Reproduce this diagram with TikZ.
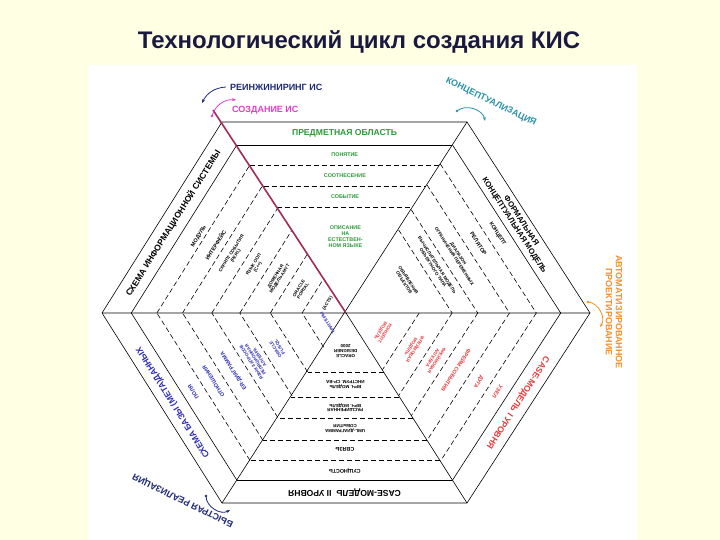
\documentclass[tikz,border=0pt]{standalone}
\usepackage{fontspec}
\setmainfont{Liberation Sans}
\usetikzlibrary{calc,arrows.meta}
\definecolor{bg}{HTML}{FFFFE4}
\definecolor{grn}{HTML}{2E9A3A}
\definecolor{blu}{HTML}{2C2CB8}
\definecolor{rd}{HTML}{E8383A}
\definecolor{redline}{HTML}{A02C58}
\definecolor{navy}{HTML}{1E2A78}
\definecolor{mag}{HTML}{E040C8}
\definecolor{teal2}{HTML}{2A92A8}
\definecolor{orng}{HTML}{F0902A}
\definecolor{ttl}{HTML}{1A1A40}
\begin{document}
\begin{tikzpicture}[x=1pt,y=-1pt,
  sm/.style={font=\fontsize{5.4}{5.8}\selectfont\bfseries, align=center, inner sep=0pt},
  xs/.style={font=\fontsize{4.5}{4.9}\selectfont\bfseries, align=center, inner sep=0pt},
  big/.style={font=\fontsize{8.6}{9}\selectfont\bfseries, align=center, inner sep=0pt},
  ann/.style={font=\fontsize{9}{10}\selectfont\bfseries, align=center, inner sep=0pt},
  dl/.style={dashed, dash pattern=on 5pt off 3pt, line width=0.6pt},
  sl/.style={line width=0.6pt},
  carr/.style={line width=0.8pt, -{Stealth[length=4pt]}}]
\useasboundingbox (0,0) rectangle (720,540);
\fill[bg] (0,0) rectangle (720,540);
\fill[white] (88,65) rectangle (637,540);
\node[font=\fontsize{24}{28}\selectfont\bfseries, text=ttl] (title) at (359,42) {Технологический цикл создания КИС};
\coordinate (L) at (102,313); \coordinate (TL) at (222,122); \coordinate (TR) at (467,122);
\coordinate (R) at (590,313); \coordinate (BR) at (467,503); \coordinate (BL) at (222,503);
\coordinate (O) at (346,313);
\coordinate (Mul) at ($(L)!0.5!(TL)$); \coordinate (Mt) at ($(TL)!0.5!(TR)$);
\coordinate (Mur) at ($(TR)!0.5!(R)$); \coordinate (Mlr) at ($(R)!0.5!(BR)$);
\coordinate (Mb) at ($(BR)!0.5!(BL)$); \coordinate (Mll) at ($(BL)!0.5!(L)$);
\draw[sl] (L) -- (TL) -- (TR) -- (R) -- (BR) -- (BL) -- cycle;
\draw[sl] (L) -- (R) (TR) -- (BL) (O) -- (BR);
\foreach \a/\b in {L/TL,TL/TR,TR/R,R/BR,BR/BL,BL/L}{
  \draw[sl] ($(\a)!0.12!(O)$) -- ($(\b)!0.12!(O)$);
}
\foreach \t in {0.225,0.335,0.445}{ \draw[dl] ($(TL)!\t!(O)$) -- ($(TR)!\t!(O)$); }
\foreach \t in {0.225,0.33,0.447,0.558,0.69}{ \draw[dl] ($(BR)!\t!(O)$) -- ($(BL)!\t!(O)$); }
\foreach \t in {0.22,0.33,0.46,0.565}{ \draw[dl] ($(TR)!\t!(O)$) -- ($(R)!\t!(O)$); }
\foreach \t in {0.22,0.33,0.46,0.565,0.70}{ \draw[dl] ($(R)!\t!(O)$) -- ($(BR)!\t!(O)$); }
\foreach \t in {0.225,0.33,0.45,0.565,0.69,0.82}{
  \draw[dl] ($(L)!\t!(O)$) -- ($(TL)!\t!(O)$);
  \draw[dl] ($(BL)!\t!(O)$) -- ($(L)!\t!(O)$);
}
\draw[redline, line width=1.6pt] (213,110) -- (O);
\node[big, text=grn] (t0) at ($(Mt)!0.06!(O)$) {ПРЕДМЕТНАЯ ОБЛАСТЬ};
\node[sm, text=grn] (t1) at ($(Mt)!0.17!(O)$) {ПОНЯТИЕ};
\node[sm, text=grn] (t2) at ($(Mt)!0.28!(O)$) {СООТНЕСЕНИЕ};
\node[sm, text=grn] (t3) at ($(Mt)!0.39!(O)$) {СОБЫТИЕ};
\node[sm, text=grn] (t4) at ($(Mt)!0.6!(O)$) {ОПИСАНИЕ\\НА\\ЕСТЕСТВЕН-\\НОМ ЯЗЫКЕ};
\node[big, font=\fontsize{7.8}{8.2}\selectfont\bfseries, rotate=-57.2] (ur0) at ($(Mur)!0.06!(O)$) {ФОРМАЛЬНАЯ\\КОНЦЕПТУАЛЬНАЯ МОДЕЛЬ};
\node[sm, rotate=-57.2] (ur1) at ($(Mur)!0.17!(O)$) {КОНЦЕПТ};
\node[sm, rotate=-57.2] (ur2) at ($(Mur)!0.275!(O)$) {РЕЛЯТОР};
\node[xs, rotate=-57.2] (ur3) at ($(Mur)!0.395!(O)$) {ДИАПАЗОН\\ОГРАНИЧЕНИЯ ПЕРЕМЕННЫХ};
\node[xs, rotate=-57.2] (ur4) at ($(Mur)!0.512!(O)$) {ВЫЧИСЛИТЕЛЬНАЯ МОДЕЛЬ\\ОБЪЕКТНОГО ТИПА};
\node[xs, rotate=-57.2] (ur5) at ($(Mur)!0.67!(O)$) {ОБЪЯВЛЕНИЯ\\ОБЪЕКТОВ};
\node[big, text=rd, rotate=237.1] (lr0) at ($(Mlr)!0.06!(O)$) {CASE-МОДЕЛЬ I УРОВНЯ};
\node[sm, text=rd, rotate=237.1] (lr1) at ($(Mlr)!0.17!(O)$) {УЗЕЛ};
\node[sm, text=rd, rotate=237.1] (lr2) at ($(Mlr)!0.275!(O)$) {ДУГА};
\node[sm, text=rd, rotate=237.1] (lr3) at ($(Mlr)!0.395!(O)$) {ФРЕЙМ СОБЫТИЯ};
\node[xs, text=rd, rotate=237.1] (lr4) at ($(Mlr)!0.512!(O)$) {ФРЕЙМОВАЯ\\АЛГЕБРА};
\node[xs, text=rd, rotate=237.1] (lr5) at ($(Mlr)!0.632!(O)$) {ФРЕЙМОВАЯ\\МОДЕЛЬ};
\node[xs, text=rd, rotate=237.1] (lr6) at ($(Mlr)!0.8!(O)$) {КОНЦЕПТ.\\МОДЕЛЬ};
\node[big, rotate=180] (b0) at ($(Mb)!0.055!(O)$) {CASE-МОДЕЛЬ \ II УРОВНЯ};
\node[sm, rotate=180] (b1) at ($(Mb)!0.17!(O)$) {СУЩНОСТЬ};
\node[sm, rotate=180] (b2) at ($(Mb)!0.28!(O)$) {СВЯЗЬ};
\node[xs, rotate=180] (b3) at ($(Mb)!0.39!(O)$) {UML-ДИАГРАММА\\СОБЫТИЯ};
\node[xs, rotate=180] (b4) at ($(Mb)!0.502!(O)$) {РАСШИРЕННАЯ\\ВРЧ. МОДЕЛЬ};
\node[xs, rotate=180] (b5) at ($(Mb)!0.624!(O)$) {ВРЧ. МОДЕЛЬ\\ИНСТРУМ. СР-ВА};
\node[xs, rotate=180] (b6) at ($(Mb)!0.8!(O)$) {ORACLE\\DESIGNER\\2000};
\node[big, text=blu, rotate=122.3] (ll0) at ($(Mll)!0.06!(O)$) {СХЕМА БАЗЫ (МЕТА)ДАННЫХ};
\node[sm, text=blu, rotate=122.3] (ll1) at ($(Mll)!0.17!(O)$) {ПОЛЯ};
\node[sm, text=blu, rotate=122.3] (ll2) at ($(Mll)!0.28!(O)$) {ОТНОШЕНИЯ};
\node[sm, text=blu, rotate=122.3] (ll3) at ($(Mll)!0.39!(O)$) {ER-ДИАГРАММА};
\node[xs, text=blu, rotate=122.3] (ll4) at ($(Mll)!0.508!(O)$) {ЯЗЫК ЗАПРОСОВ\\РЕЛЯЦИОННАЯ\\АЛГЕБРА};
\node[xs, text=blu, rotate=122.3] (ll5) at ($(Mll)!0.63!(O)$) {ORACLE\\PL/SQL};
\node[xs, text=blu, rotate=122.3] (ll6) at ($(Mll)!0.9!(O)$) {ТРИГГЕРЫ};
\node[big, rotate=57.9] (ul0) at ($(Mul)!0.06!(O)$) {СХЕМА ИНФОРМАЦИОННОЙ СИСТЕМЫ};
\node[sm, rotate=57.9] (ul1) at ($(Mul)!0.2!(O)$) {МОДУЛЬ};
\node[sm, rotate=57.9] (ul2) at ($(Mul)!0.29!(O)$) {ИНТЕРФЕЙС};
\node[xs, rotate=57.9] (ul3) at ($(Mul)!0.39!(O)$) {СКРИПТ СОБЫТИЯ\\(PERL)};
\node[xs, rotate=57.9] (ul4) at ($(Mul)!0.51!(O)$) {ЯЗЫК ООП\\(C++)};
\node[xs, rotate=57.9] (ul5) at ($(Mul)!0.63!(O)$) {ДОМЕННАЯ\\МОДЕЛЬ AMYT};
\node[xs, rotate=57.9] (ul6) at ($(Mul)!0.755!(O)$) {ORACLE\\PORTAL};
\node[xs, rotate=57.9] (ul7) at ($(Mul)!0.9!(O)$) {(ACTS)};
\node[ann, text=navy, anchor=west] (reng) at (230,87) {РЕИНЖИНИРИНГ ИС};
\node[ann, text=mag, anchor=west] (sozd) at (232,110) {СОЗДАНИЕ ИС};
\node[ann, text=teal2, rotate=-26] (konc) at (491,102) {КОНЦЕПТУАЛИЗАЦИЯ};
\node[ann, text=orng, rotate=-90] (avto) at (614,312) {АВТОМАТИЗИРОВАННОЕ\\ПРОЕКТИРОВАНИЕ};
\node[ann, text=navy, rotate=154] (bystr) at (183,500) {БЫСТРАЯ РЕАЛИЗАЦИЯ};
\coordinate (a1s) at (226,87); \coordinate (a1e) at (202,103);
\draw[carr, navy] (a1s) to[bend right=30] (a1e);
\coordinate (a2s) at (212,116); \coordinate (a2e) at (236,100);
\fill[mag] (a2s) circle (1.3pt);
\draw[carr, mag] (a2s) to[bend left=40] (a2e);
\coordinate (a3s) at (457,111); \coordinate (a3e) at (485,121);
\fill[teal2] (a3s) circle (1.3pt);
\draw[carr, teal2] (a3s) to[bend left=60] (a3e);
\coordinate (a4s) at (588,302); \coordinate (a4e) at (600,327);
\fill[orng] (a4s) circle (1.3pt);
\draw[carr, orng] (a4s) to[bend left=60] (a4e);
\coordinate (a5s) at (206,496); \coordinate (a5e) at (230,510);
\fill[navy] (a5s) circle (1.3pt);
\draw[carr, navy] (a5s) to[bend right=60] (a5e);
\end{tikzpicture}
\end{document}
